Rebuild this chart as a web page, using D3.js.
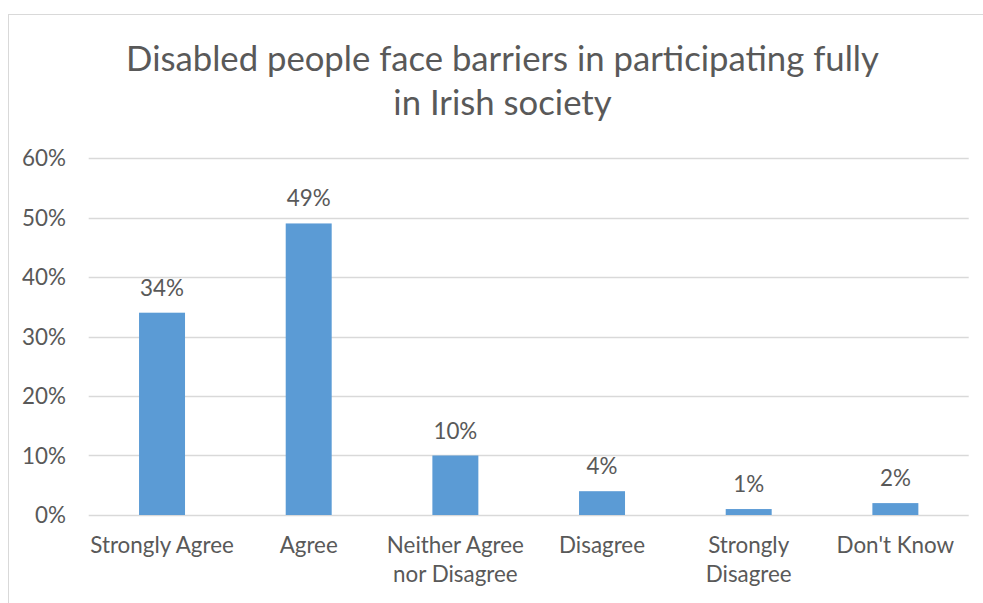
<!DOCTYPE html>
<html>
<head>
<meta charset="utf-8">
<script src="https://cdn.jsdelivr.net/npm/d3@7"></script>
<style>
  html, body { margin: 0; padding: 0; background: #ffffff; }
  svg { display: block; font-family: Lato, "Open Sans", sans-serif; }
</style>
</head>
<body>
<svg id="chart" width="983" height="603"></svg>
<script>
// Survey responses
const titleLines = ["Disabled people face barriers in participating fully", "in Irish society"];
const categories = ["Strongly Agree", "Agree", "Neither Agree nor Disagree", "Disagree", "Strongly Disagree", "Don't Know"];
const values = [0.34, 0.49, 0.10, 0.04, 0.01, 0.02];
const yTicks = [0, 0.1, 0.2, 0.3, 0.4, 0.5, 0.6];

const svg = d3.select("#chart");
const W = 983, H = 603;
const textColor = "#595959";
const gridColor = "#d9d9d9";
const barColor = "#5b9bd5";
const labelSize = "22.4px";

// chart frame
svg.append("rect")
  .attr("x", 8.5).attr("y", 14.5)
  .attr("width", W).attr("height", H)
  .attr("fill", "none").attr("stroke", gridColor).attr("stroke-width", 1);

const plot = { left: 88.7, right: 968.7, top: 158, bottom: 515 };

const x = d3.scaleBand().domain(categories).range([plot.left, plot.right]).padding(0);
const y = d3.scaleLinear().domain([0, 0.6]).range([plot.bottom, plot.top]);
const barW = x.bandwidth() / 3.19;

// title
svg.append("text")
  .attr("x", 502.5).attr("y", 71)
  .attr("text-anchor", "middle")
  .attr("fill", textColor)
  .style("font-size", "34.7px")
  .selectAll("tspan").data(titleLines).join("tspan")
  .attr("x", 502.5)
  .attr("dy", (d, i) => i === 0 ? 0 : 44)
  .text(d => d);

// gridlines
svg.append("g")
  .selectAll("line").data(yTicks).join("line")
  .attr("x1", plot.left).attr("x2", plot.right)
  .attr("y1", d => Math.round(y(d)) + 0.5).attr("y2", d => Math.round(y(d)) + 0.5)
  .attr("stroke", gridColor).attr("stroke-width", 1.4);

// y axis labels
const yAxis = d3.axisLeft(y).tickValues(yTicks).tickFormat(d3.format(".0%")).tickSize(0).tickPadding(0);
const yg = svg.append("g").attr("transform", `translate(66,0)`).call(yAxis);
yg.select(".domain").remove();
yg.selectAll("text").attr("fill", textColor).style("font-size", labelSize).style("font-family", "Lato, sans-serif").attr("dy", "0.35em");

// bars
svg.append("g")
  .selectAll("rect").data(values).join("rect")
  .attr("x", (d, i) => x(categories[i]) + x.bandwidth() / 2 - barW / 2)
  .attr("y", d => y(d))
  .attr("width", barW)
  .attr("height", d => y(0) - y(d))
  .attr("fill", barColor);

// value labels
svg.append("g")
  .selectAll("text").data(values).join("text")
  .attr("x", (d, i) => x(categories[i]) + x.bandwidth() / 2)
  .attr("y", d => y(d) - 17)
  .attr("text-anchor", "middle")
  .attr("fill", textColor)
  .style("font-size", labelSize)
  .text(d => d3.format(".0%")(d));

// category labels, wrapped to band width
const xg = svg.append("g");
categories.forEach(c => {
  const words = c.split(" ");
  const t = xg.append("text")
    .attr("text-anchor", "middle")
    .attr("fill", textColor)
    .style("font-size", labelSize);
  const cx = x(c) + x.bandwidth() / 2;
  let lines = [], line = [];
  const probe = t.append("tspan");
  words.forEach(w => {
    const test = line.concat(w).join(" ");
    probe.text(test);
    if (probe.node().getComputedTextLength() > x.bandwidth() && line.length) {
      lines.push(line.join(" "));
      line = [w];
    } else {
      line.push(w);
    }
  });
  lines.push(line.join(" "));
  probe.remove();
  lines.forEach((l, i) => {
    t.append("tspan").attr("x", cx).attr("y", 553 + i * 29).text(l);
  });
});
</script>
</body>
</html>
